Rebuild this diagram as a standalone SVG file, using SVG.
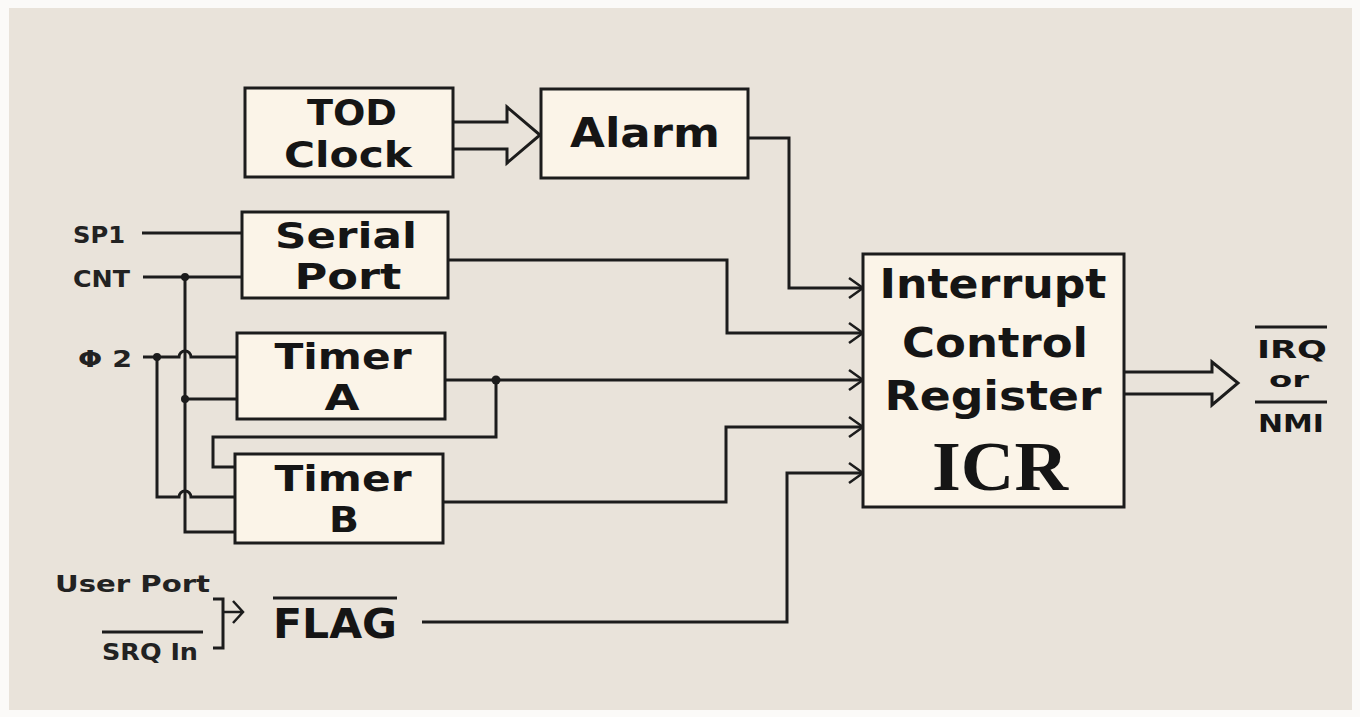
<svg xmlns="http://www.w3.org/2000/svg" width="1360" height="717" viewBox="0 0 1360 717">
<style>
.box{fill:#fbf4e8;stroke:#1c1c1c;stroke-width:3}
.ln{fill:none;stroke:#1c1c1c;stroke-width:3;stroke-linejoin:miter}
.hd{fill:none;stroke:#1c1c1c;stroke-width:2.5}
.t{font-family:"DejaVu Sans","Liberation Sans",sans-serif;font-weight:bold;fill:#151515;text-anchor:middle}
.big{font-size:40px}
.mid{font-size:35px}
.sm{font-family:"DejaVu Sans","Liberation Sans",sans-serif;font-weight:bold;fill:#222;font-size:23px}
.dot{fill:#1c1c1c}
</style>
<rect x="0" y="0" width="1360" height="717" fill="#fbfaf8"/>
<rect x="9" y="8" width="1343" height="702" fill="#e9e3da"/>

<g id="connectors">
  <!-- TOD -> Alarm hollow arrow -->
  <path class="ln" d="M453,122 H507 V107 L540,135 L507,163 V149 H453"/>
  <!-- ICR -> IRQ hollow arrow -->
  <path class="ln" d="M1124,372 H1212 V362 L1238,383 L1212,405 V394 H1124"/>
  <!-- Alarm -> ICR -->
  <path class="ln" d="M748,138 H789 V288 H863"/>
  <!-- Serial Port -> ICR -->
  <path class="ln" d="M447,260 H727 V333 H863"/>
  <!-- Timer A -> ICR -->
  <path class="ln" d="M445,380 H863"/>
  <!-- Timer A -> Timer B feedback -->
  <path class="ln" d="M496,380 V437 H213 V467 H234"/>
  <!-- Timer B -> ICR -->
  <path class="ln" d="M443,502 H726 V427 H863"/>
  <!-- FLAG -> ICR -->
  <path class="ln" d="M422,622 H787 V473 H863"/>
  <!-- arrowheads into ICR -->
  <path class="hd" d="M849,278 L863,288 L849,298 M849,323 L863,333 L849,343 M849,370 L863,380 L849,390 M849,417 L863,427 L849,437 M849,463 L863,473 L849,483"/>
  <!-- SP1 -->
  <path class="ln" d="M142,233 H242"/>
  <!-- CNT -->
  <path class="ln" d="M143,277 H242"/>
  <path class="ln" d="M185,277 V532 H234"/>
  <path class="ln" d="M185,399 H237"/>
  <!-- Phi2 -->
  <path class="ln" d="M143,357 H179 A6,6 0 0 1 191,357 H237"/>
  <path class="ln" d="M157,357 V497 H179 A6,6 0 0 1 191,497 H234"/>
  <circle class="dot" cx="185" cy="277" r="4"/>
  <circle class="dot" cx="185" cy="399" r="4"/>
  <circle class="dot" cx="157" cy="357" r="4"/>
  <circle class="dot" cx="496" cy="380" r="4.5"/>
  <!-- User port bracket and arrow -->
  <path class="ln" d="M213,599 H223 V648 H213"/>
  <path class="hd" d="M223,612 H242 M233,601 L243,612 L233,623"/>
</g>

<g id="tod">
  <rect class="box" x="245" y="88" width="208" height="89"/>
  <text class="t mid" x="352" y="125" textLength="90" lengthAdjust="spacingAndGlyphs">TOD</text>
  <text class="t mid" x="348" y="167" textLength="128" lengthAdjust="spacingAndGlyphs">Clock</text>
</g>
<g id="alarm">
  <rect class="box" x="541" y="89" width="207" height="89"/>
  <text class="t big" x="645" y="147" textLength="150" lengthAdjust="spacingAndGlyphs">Alarm</text>
</g>
<g id="serial">
  <rect class="box" x="242" y="212" width="206" height="86"/>
  <text class="t mid" x="346" y="248" textLength="142" lengthAdjust="spacingAndGlyphs">Serial</text>
  <text class="t mid" x="348" y="289" textLength="107" lengthAdjust="spacingAndGlyphs">Port</text>
</g>
<g id="timerA">
  <rect class="box" x="237" y="333" width="208" height="86"/>
  <text class="t mid" x="343" y="369" textLength="137" lengthAdjust="spacingAndGlyphs">Timer</text>
  <text class="t mid" x="342" y="410" textLength="35" lengthAdjust="spacingAndGlyphs">A</text>
</g>
<g id="timerB">
  <rect class="box" x="235" y="454" width="208" height="89"/>
  <text class="t mid" x="343" y="491" textLength="137" lengthAdjust="spacingAndGlyphs">Timer</text>
  <text class="t mid" x="344" y="532" textLength="30" lengthAdjust="spacingAndGlyphs">B</text>
</g>
<g id="icr">
  <rect class="box" x="863" y="254" width="261" height="253"/>
  <text class="t big" x="993" y="298" textLength="227" lengthAdjust="spacingAndGlyphs">Interrupt</text>
  <text class="t big" x="995" y="357" textLength="186" lengthAdjust="spacingAndGlyphs">Control</text>
  <text class="t big" x="993" y="410" textLength="217" lengthAdjust="spacingAndGlyphs">Register</text>
  <text x="1000" y="490" font-family="'Liberation Serif',serif" font-weight="bold" font-size="70" fill="#151515" text-anchor="middle" textLength="136" lengthAdjust="spacingAndGlyphs">ICR</text>
</g>

<g id="inputs">
  <text class="sm" x="73" y="243" textLength="52" lengthAdjust="spacingAndGlyphs">SP1</text>
  <text class="sm" x="73" y="287" textLength="57" lengthAdjust="spacingAndGlyphs">CNT</text>
  <text class="sm" x="78" y="367" textLength="54" lengthAdjust="spacingAndGlyphs">Φ 2</text>
  <text class="sm" x="55" y="592" textLength="155" lengthAdjust="spacingAndGlyphs">User Port</text>
  <text class="sm" x="102" y="660" textLength="96" lengthAdjust="spacingAndGlyphs">SRQ In</text>
  <path class="ln" d="M102,632 H203" stroke-width="2.5"/>
</g>
<g id="flag">
  <text class="t big" x="335" y="638" textLength="124" lengthAdjust="spacingAndGlyphs">FLAG</text>
  <path class="ln" d="M273,598 H397"/>
</g>
<g id="output">
  <text class="t" x="1292" y="358" font-size="25" textLength="70" lengthAdjust="spacingAndGlyphs">IRQ</text>
  <path class="ln" d="M1255,327 H1327"/>
  <text class="t" x="1289" y="387" font-size="22" textLength="40" lengthAdjust="spacingAndGlyphs">or</text>
  <text class="t" x="1291" y="432" font-size="25" textLength="66" lengthAdjust="spacingAndGlyphs">NMI</text>
  <path class="ln" d="M1255,402 H1327"/>
</g>
</svg>
